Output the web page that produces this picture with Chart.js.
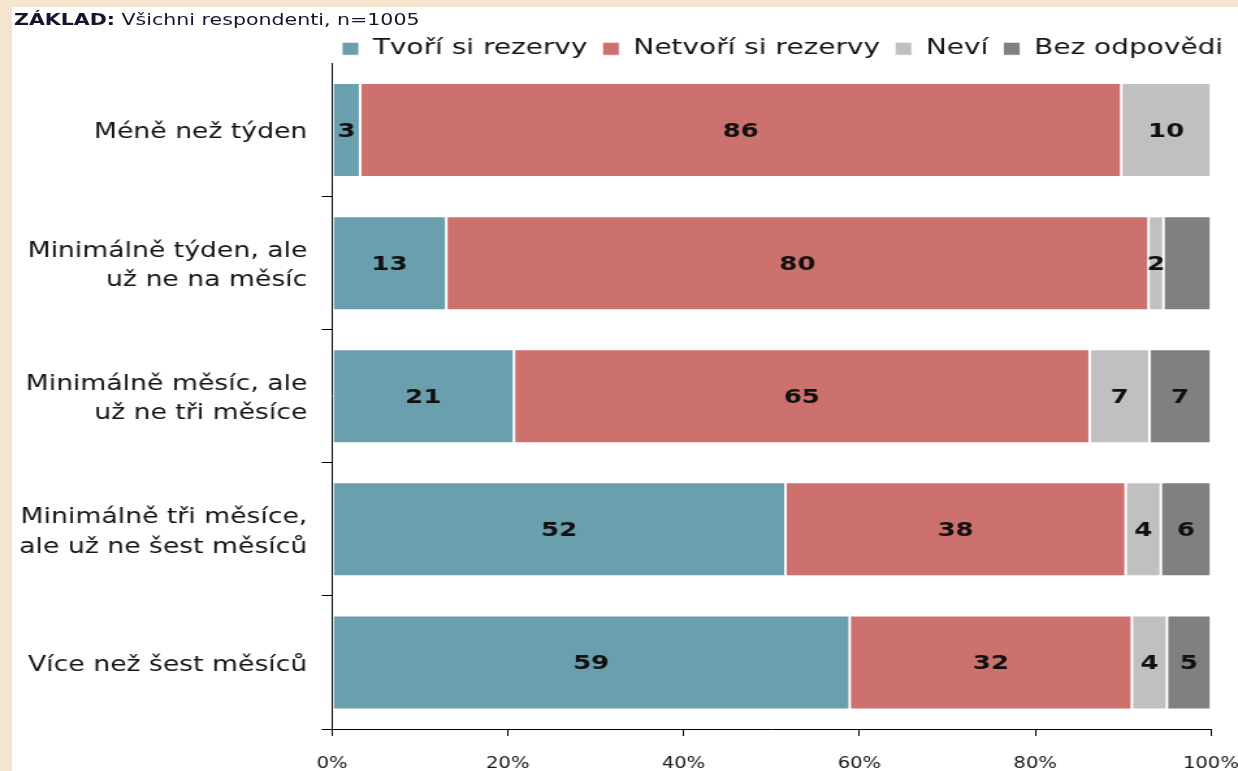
<!DOCTYPE html>
<html>
<head>
<meta charset="utf-8">
<script src="https://cdn.jsdelivr.net/npm/chart.js@4"></script>
<style>
  html, body { margin:0; padding:0; width:1238px; height:771px; overflow:hidden; background:#f4e4d0; }
  #panel { position:absolute; left:12px; top:7px; right:0; bottom:0; background:#ffffff; }
  #wrap { position:absolute; left:0; top:0; width:952px; height:771px; transform:scaleX(1.3004); transform-origin:0 0; }
  #title { position:absolute; left:10.8px; top:12px; font-family:"DejaVu Sans", Verdana, sans-serif; font-size:15.8px; line-height:1; color:#14142a; white-space:nowrap; }
  canvas { position:absolute; left:0; top:0; }
</style>
</head>
<body>
<div id="panel"></div>
<div id="wrap">
  <canvas id="c" width="952" height="771" style="width:952px;height:771px"></canvas>
  <div id="title"><b>ZÁKLAD:</b> Všichni respondenti, n=1005</div>
</div>
<script>
const categories = [
  ['Méně než týden'],
  ['Minimálně týden, ale', 'už ne na měsíc'],
  ['Minimálně měsíc, ale', 'už ne tři měsíce'],
  ['Minimálně tři měsíce,', 'ale už ne šest měsíců'],
  ['Více než šest měsíců']
];
const seriesNames = ['Tvoří si rezervy', 'Netvoří si rezervy', 'Neví', 'Bez odpovědi'];
const tvori   = [3.2, 13.0, 20.7, 51.6, 58.9];
const netvori = [86.6, 79.9, 65.5, 38.7, 32.1];
const nevi    = [10.2, 1.7, 6.8, 4.0, 4.0];
const bez     = [0, 5.4, 7.0, 5.7, 5.0];
const tvoriLabels   = ['3', '13', '21', '52', '59'];
const netvoriLabels = ['86', '80', '65', '38', '32'];
const neviLabels    = ['10', '2', '7', '4', '4'];
const bezLabels     = [null, null, '7', '6', '5'];
const xTickLabels = ['0%', '20%', '40%', '60%', '80%', '100%'];

const FONT = '"DejaVu Sans", Verdana, sans-serif';
const TEXT = '#141414';

const valueLabelPlugin = {
  id: 'valueLabels',
  afterDatasetsDraw(chart) {
    const ctx = chart.ctx;
    ctx.save();
    ctx.font = 'bold 20px ' + FONT;
    ctx.fillStyle = '#111111';
    ctx.textAlign = 'center';
    ctx.textBaseline = 'middle';
    chart.data.datasets.forEach((ds, di) => {
      const meta = chart.getDatasetMeta(di);
      meta.data.forEach((bar, i) => {
        const t = ds.valueLabels[i];
        if (t == null) return;
        const p = bar.getProps(['x', 'base', 'y'], true);
        ctx.fillText(t, (p.x + p.base) / 2, p.y + 1.5);
      });
    });
    ctx.restore();
  }
};

const mk = (label, data, labels, color) => ({
  label, data, valueLabels: labels,
  backgroundColor: color,
  borderColor: 'rgba(255,255,255,0.85)',
  borderWidth: 1,
  borderSkipped: false,
  barPercentage: 0.706,
  categoryPercentage: 1.0
});

new Chart(document.getElementById('c'), {
  type: 'bar',
  data: {
    labels: categories,
    datasets: [
      mk(seriesNames[0], tvori, tvoriLabels, '#6a9fae'),
      mk(seriesNames[1], netvori, netvoriLabels, '#cc716e'),
      mk(seriesNames[2], nevi, neviLabels, '#c0c0c0'),
      mk(seriesNames[3], bez, bezLabels, '#808080')
    ]
  },
  options: {
    indexAxis: 'y',
    responsive: false,
    animation: false,
    devicePixelRatio: 1,
    layout: { padding: { top: 26.5, right: 0, bottom: 0, left: 0 } },
    plugins: {
      tooltip: { enabled: false },
      title: { display: false },
      legend: {
        position: 'top',
        align: 'end',
        maxHeight: 37,
        labels: {
          boxWidth: 13, boxHeight: 13, padding: 11.5,
          color: TEXT,
          font: { family: FONT, size: 21.5 }
        }
      }
    },
    scales: {
      x: {
        stacked: true,
        min: 0, max: 100,
        ticks: {
          stepSize: 20,
          padding: 19,
          color: TEXT,
          font: { family: FONT, size: 15 },
          callback: (v) => xTickLabels[Math.round(v / 20)]
        },
        grid: { display: true, drawOnChartArea: false, tickLength: 7, color: '#000', lineWidth: 1 },
        border: { display: true, color: '#000', width: 1 },
        afterFit: (s) => { s.height = 42; s.paddingLeft = 0; s.paddingRight = 20.8; }
      },
      y: {
        stacked: true,
        ticks: {
          padding: 11,
          labelOffset: 3,
          color: TEXT,
          font: { family: FONT, size: 20.5, lineHeight: 1.45 }
        },
        grid: {
          display: true, drawOnChartArea: false, offset: true, tickLength: 8, lineWidth: 1,
          color: (c) => (c.index === 0 ? 'rgba(0,0,0,0)' : '#000')
        },
        border: { display: true, color: '#000', width: 1 },
        afterFit: (s) => { s.width = 255.3; }
      }
    }
  },
  plugins: [valueLabelPlugin]
});
</script>
</body>
</html>
